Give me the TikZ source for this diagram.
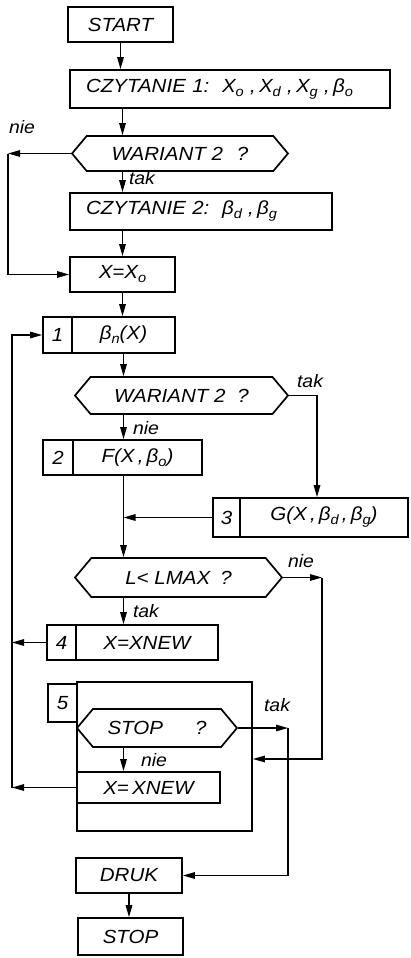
\documentclass[tikz,border=0pt]{standalone}
\usepackage{fontspec}
\setmainfont{Liberation Sans}[FakeStretch=1.08]
\usetikzlibrary{arrows.meta,shapes.symbols}
\newcommand{\sbs}[1]{\raisebox{-4pt}{\fontsize{13.5}{14}\selectfont #1}}
\begin{document}
\begin{tikzpicture}[x=1pt,y=-1pt,
  every node/.style={font=\fontsize{19}{21}\selectfont\itshape, inner sep=0pt},
  box/.style={draw, line width=1.7pt, rectangle},
  hex/.style={draw, line width=1.7pt, shape=signal, signal to=west and east, signal pointer angle=100},
  lbl/.style={font=\fontsize{18}{20}\selectfont\itshape},
  conn/.style={line width=1.4pt},
  arr/.style={conn, -{Triangle[length=12pt,width=6.5pt]}},
]
\useasboundingbox (0,0) rectangle (410,958);

% boxes
\node[box, minimum width=105pt, minimum height=35pt] (start) at (120.5,24.5) {START};
\node[box, minimum width=320pt, minimum height=38pt, text width=288pt, inner xsep=16pt, align=left] (cz1) at (230,89)
  {CZYTANIE 1:\ \ X\sbs{o}\ ,\,X\sbs{d}\ ,\,X\sbs{g}\ ,\,β\sbs{o}};
\node[hex, minimum width=216pt, minimum height=35pt] (h1) at (180,153.5) {WARIANT 2\hspace{14pt}?\hspace{6pt}};
\node[box, minimum width=262pt, minimum height=37pt, text width=230pt, inner xsep=16pt, align=left] (cz2) at (201,211.5)
  {CZYTANIE 2:\ \ β\sbs{d}\ ,\,β\sbs{g}};
\node[box, minimum width=105pt, minimum height=35pt] (x0) at (122.5,274.5) {X=X\sbs{o}};

\node[box, minimum width=29pt, minimum height=36pt] (b1n) at (57.5,335) {1};
\node[box, minimum width=103pt, minimum height=36pt] (b1) at (123.5,335) {β\sbs{n}(X)};

\node[hex, minimum width=213pt, minimum height=37pt] (h2) at (181.5,395.5) {WARIANT 2\hspace{12pt}?};

\node[box, minimum width=30pt, minimum height=35pt] (b2n) at (58,457.5) {2};
\node[box, minimum width=129pt, minimum height=35pt] (b2) at (137.5,457.5) {F(X\,,\,β\sbs{o})};

\node[box, minimum width=27pt, minimum height=39pt] (b3n) at (226.5,517.5) {3};
\node[box, minimum width=168pt, minimum height=39pt] (b3) at (324,517.5) {G(X\,,\,β\sbs{d}\,,\,β\sbs{g})};

\node[hex, minimum width=207pt, minimum height=39pt] (h3) at (178.5,577.5) {L< LMAX\hspace{10pt}?\hspace{14pt}};

\node[box, minimum width=29pt, minimum height=35pt] (b4n) at (61.5,642.5) {4};
\node[box, minimum width=142pt, minimum height=35pt] (b4) at (147,642.5) {X=XNEW};

\node[box, minimum width=175pt, minimum height=149pt] (loop5) at (164.5,756.5) {};
\node[box, minimum width=29pt, minimum height=38pt] (b5n) at (62.5,703) {5};
\node[hex, minimum width=160pt, minimum height=38pt] (h4) at (157,728) {STOP\hspace{32pt}?\hspace{8pt}};
\node[box, minimum width=143pt, minimum height=31pt] (xn2) at (148.5,787.5) {X=\,XNEW};

\node[box, minimum width=106pt, minimum height=35pt] (druk) at (129,875.5) {DRUK};
\node[box, minimum width=105pt, minimum height=37pt] (stop) at (130.5,936.5) {STOP};

% labels
\node[lbl] (l1) at (22,127) {nie};
\node[lbl] (l2) at (142,178) {tak};
\node[lbl] (l3) at (310,381) {tak};
\node[lbl] (l4) at (146,428) {nie};
\node[lbl] (l5) at (301,561) {nie};
\node[lbl] (l6) at (146,611) {tak};
\node[lbl] (l7) at (277,705) {tak};
\node[lbl] (l8) at (154,760) {nie};

% coordinates
\coordinate (n1) at (8,153.5);
\coordinate (t2) at (317,395.5);
\coordinate (j) at (123.5,517.5);
\coordinate (n3) at (322,577.5);
\coordinate (n3b) at (322,759);
\coordinate (t4) at (288,728);
\coordinate (r4) at (12,642.5);
\coordinate (r5) at (12,787.5);

% main flow
\draw[arr] (start.south) -- (start.south |- cz1.north);
\draw[arr] (x0.north |- cz1.south) -- (x0.north |- h1.north);
\draw[arr] (x0.north |- h1.south) -- (x0.north |- cz2.north);
\draw[arr] (x0.north |- cz2.south) -- (x0.north);
\draw[arr] (x0.south) -- (x0.south |- b1.north);
\draw[arr] (b1.south) -- (b1.south |- h2.north);
\draw[arr] (b1.south |- h2.south) -- (b1.south |- b2.north);
\draw[arr] (b1.south |- b2.south) -- (b1.south |- h3.north);
\draw[arr] (b3n.west) -- (j);
\draw[arr] (b1.south |- h3.south) -- (b1.south |- b4.north);
\draw[arr] (b1.south |- h4.south) -- (b1.south |- xn2.north);
\draw[arr] (druk.south) -- (druk.south |- stop.north);

% branches
\draw[arr] (h1.west) -- (n1);
\draw[arr] (n1) |- (x0.west);
\draw[arr] (h2.east) -- (t2) -- (t2 |- b3.north);
\draw[arr] (h3.east) -- (n3);
\draw[arr] (n3) -- (n3b) -- (n3b -| loop5.east);
\draw[arr] (h4.east) -- (t4);
\draw[arr] (t4) |- (druk.east);
\draw[arr] (b4n.west) -- (r4);
\draw[arr] (xn2.west) -- (r5);
\draw[arr] (r5) |- (b1n.west);
\end{tikzpicture}
\end{document}
